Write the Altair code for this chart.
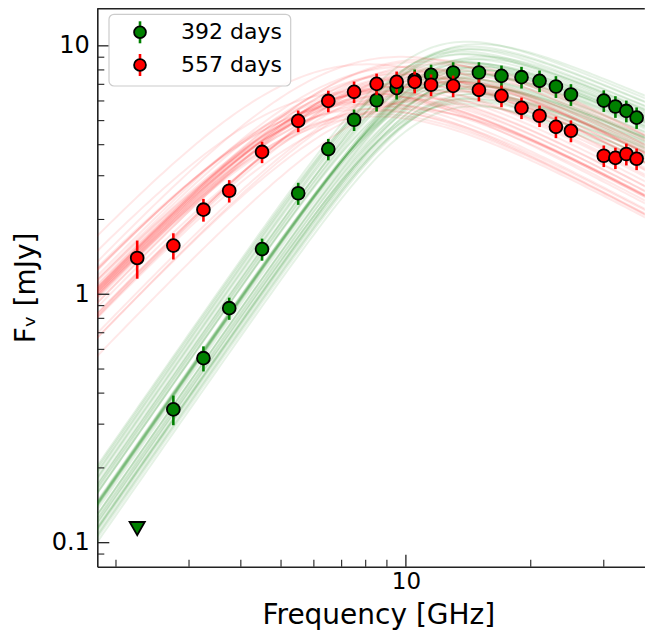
import numpy as np
import pandas as pd
import altair as alt

# ---------------- data ----------------
freq_392 = [2.75, 3.25, 3.75, 4.5, 5.5, 6.5, 7.5, 8.5, 9.5, 10.5, 11.5, 13, 15, 17, 19, 21, 23, 25, 30, 32, 34, 36]
flux_392 = [0.344, 0.553, 0.879, 1.52, 2.55, 3.84, 5.04, 6.04, 6.76, 7.30, 7.64, 7.81, 7.81, 7.57, 7.48, 7.23, 6.86,
            6.37, 6.02, 5.70, 5.47, 5.14]
err_392 = [0.047, 0.064, 0.09, 0.155, 0.26, 0.38, 0.50, 0.60, 0.68, 0.73, 0.76, 0.78, 0.78, 0.76, 0.75, 0.72, 0.69,
           0.64, 0.60, 0.57, 0.55, 0.51]
limit_freq_392 = [2.25]
limit_flux_392 = [0.114]

freq_557 = [2.25, 2.75, 3.25, 3.75, 4.5, 5.5, 6.5, 7.5, 8.5, 9.5, 10.5, 11.5, 13, 15, 17, 19, 21, 23, 25, 30, 32, 34, 36]
flux_557 = [1.40, 1.57, 2.19, 2.61, 3.74, 4.99, 6.00, 6.53, 7.03, 7.16, 7.16, 6.97, 6.90, 6.65, 6.29, 5.63, 5.23,
            4.72, 4.55, 3.61, 3.54, 3.67, 3.51]
err_557 = [0.245, 0.19, 0.23, 0.27, 0.37, 0.50, 0.60, 0.65, 0.70, 0.72, 0.72, 0.70, 0.69, 0.67, 0.63, 0.56, 0.52,
           0.47, 0.46, 0.36, 0.35, 0.37, 0.35]

# model-spectrum parameters (smoothed broken power law), one sample set per faint line
g_model = dict(Fb=11.0, nub=11.0, a1=2.4, a2=-0.70, s=1.5)
g_dF = [0.00, 0.05, -0.05, 0.10, -0.10, 0.03, -0.03, 0.08, -0.08, 0.12, -0.12, 0.01, -0.01, 0.06, -0.06,
        0.04, -0.04, 0.09, -0.09, 0.02, -0.02, 0.07, -0.07, 0.11, -0.13, 0.13, -0.11, 0.00, 0.05, -0.05,
        0.03, -0.03, 0.08, -0.08, 0.015, -0.015, 0.045, -0.045, 0.10, -0.10, 0.06, -0.06, 0.025, -0.025, 0.00]
g_dnu = [0.00, -0.02, 0.02, 0.01, -0.01, 0.03, -0.03, -0.01, 0.01, 0.02, -0.02, -0.03, 0.03, 0.00, 0.00,
         0.02, -0.02, -0.02, 0.02, 0.01, -0.01, 0.03, -0.03, 0.00, 0.01, -0.01, 0.00, 0.04, -0.04, 0.02,
         0.01, -0.01, -0.02, 0.02, 0.025, -0.025, 0.00, 0.00, -0.01, 0.01, 0.03, -0.03, -0.015, 0.015, 0.01]

r_model = dict(Fb=13.0, nub=7.6, a1=1.75, a2=-0.9, s=1.0)
r_dF = [0.00, 0.04, -0.04, 0.09, -0.09, 0.02, -0.02, 0.07, -0.07, 0.11, -0.11, 0.01, -0.01, 0.05, -0.05,
        0.03, -0.03, 0.08, -0.08, 0.06, -0.06, 0.10, -0.10, 0.02, -0.04, 0.04, 0.12, -0.12, 0.00, -0.02,
        0.03, -0.03, 0.07, -0.07, 0.015, -0.015, 0.05, -0.05, 0.09, -0.09, 0.00, 0.02, -0.02, 0.06, -0.06]
r_dnu = [0.00, 0.05, -0.05, 0.08, -0.08, 0.03, -0.03, 0.10, -0.10, 0.06, -0.06, 0.02, -0.02, 0.04, -0.04,
         0.07, -0.07, 0.01, -0.01, 0.09, -0.09, 0.05, -0.05, 0.12, -0.03, 0.03, 0.00, -0.06, 0.06, 0.14,
         0.02, -0.02, 0.04, -0.04, 0.06, -0.06, 0.00, 0.08, -0.08, 0.01, -0.01, 0.11, -0.11, 0.03, -0.03]

legend_labels = ["392 days", "557 days"]
GREEN = "#008000"
RED = "#ff0000"

# ---------------- tables ----------------
nu_grid = np.geomspace(1.78, 40.5, 140)


def model(nu, Fb, nub, a1, a2, s):
    x = nu / nub
    return Fb * x ** a1 * (1.0 + x ** (s * (a1 - a2))) ** (-1.0 / s)


def curves(par, dF, dnu):
    rows = []
    for i, (a, b) in enumerate(zip(dF, dnu)):
        f = model(nu_grid, par["Fb"] * 10 ** a, par["nub"] * 10 ** b, par["a1"], par["a2"], par["s"])
        for n, v in zip(nu_grid, f):
            rows.append({"curve": i, "nu": float(n), "f": float(v)})
    return pd.DataFrame(rows)


cg = curves(g_model, g_dF, g_dnu)
cr = curves(r_model, r_dF, r_dnu)

pg = pd.DataFrame({"nu": freq_392, "f": flux_392})
pg["lo"] = pg["f"] - np.array(err_392)
pg["hi"] = pg["f"] + np.array(err_392)
pr = pd.DataFrame({"nu": freq_557, "f": flux_557})
pr["lo"] = pr["f"] - np.array(err_557)
pr["hi"] = pr["f"] + np.array(err_557)
lim = pd.DataFrame({"nu": limit_freq_392, "f": limit_flux_392})

W, H = 547.5, 558.7
xs = alt.Scale(type="log", domain=[1.803, 37.67], nice=False)
ys = alt.Scale(type="log", domain=[0.08005, 14.2], nice=False)

FONT = "DejaVu Sans"
xaxis = alt.Axis(values=[10], format="~g", ticks=False, grid=False, domainColor="#222", domainWidth=1.6,
                 labelFont=FONT, labelFontSize=23, labelColor="black", labelPadding=4,
                 title="Frequency [GHz]", titleFont=FONT, titleFontSize=28, titleFontWeight="normal",
                 titleColor="black", titlePadding=8, titleX=281)
yaxis = alt.Axis(values=[0.1, 1, 10], format="~g", ticks=False, grid=False, domainColor="#222", domainWidth=1.6,
                 labelFont=FONT, labelFontSize=24, labelColor="black", labelPadding=8,
                 title="F\u1d65 [mJy]", titleFont=FONT, titleFontSize=28, titleFontWeight="normal",
                 titleColor="black", titlePadding=11)

X = alt.X("nu:Q", scale=xs, axis=xaxis)
Y = alt.Y("f:Q", scale=ys, axis=yaxis)
Ylo = alt.Y("lo:Q", scale=ys, axis=yaxis)

green_lines = alt.Chart(cg).mark_line(color=GREEN, strokeWidth=2.0, strokeOpacity=0.10, clip=True).encode(
    x=X, y=Y, detail="curve:N")
red_lines = alt.Chart(cr).mark_line(color=RED, strokeWidth=2.0, strokeOpacity=0.09, clip=True).encode(
    x=X, y=Y, detail="curve:N")

g_err = alt.Chart(pg).mark_rule(color=GREEN, strokeWidth=2.6).encode(x=X, y=Ylo, y2="hi:Q")
g_pts = alt.Chart(pg).mark_point(shape="circle", fill=GREEN, stroke="black", strokeWidth=1.8, size=165, opacity=1,
                                 fillOpacity=1).encode(x=X, y=Y)
g_lim = alt.Chart(lim).mark_point(shape="triangle-down", fill=GREEN, stroke="black", strokeWidth=1.8, size=230,
                                  opacity=1, fillOpacity=1).encode(x=X, y=Y)
r_err = alt.Chart(pr).mark_rule(color=RED, strokeWidth=2.6).encode(x=X, y=Ylo, y2="hi:Q")
r_pts = alt.Chart(pr).mark_point(shape="circle", fill=RED, stroke="black", strokeWidth=1.8, size=165, opacity=1,
                                 fillOpacity=1).encode(x=X, y=Y)

# inward ticks
x_major = pd.DataFrame({"nu": [10]})
x_minor = pd.DataFrame({"nu": [2, 3, 4, 5, 6, 7, 8, 9, 20, 30]})
y_major = pd.DataFrame({"f": [0.1, 1, 10]})
y_minor = pd.DataFrame({"f": [0.09, 0.2, 0.3, 0.4, 0.5, 0.6, 0.7, 0.8, 0.9, 2, 3, 4, 5, 6, 7, 8, 9]})
TC = "#222"
xt1 = alt.Chart(x_major).mark_rule(color=TC, strokeWidth=1.3).encode(x=X, y=alt.value(H), y2=alt.value(H - 12))
xt2 = alt.Chart(x_minor).mark_rule(color=TC, strokeWidth=1.1).encode(x=X, y=alt.value(H), y2=alt.value(H - 7))
yt1 = alt.Chart(y_major).mark_rule(color=TC, strokeWidth=1.3).encode(y=Y, x=alt.value(0), x2=alt.value(12))
yt2 = alt.Chart(y_minor).mark_rule(color=TC, strokeWidth=1.1).encode(y=Y, x=alt.value(0), x2=alt.value(7))
one = pd.DataFrame({"a": [0]})
top_line = alt.Chart(one).mark_rule(color=TC, strokeWidth=1.6).encode(x=alt.value(0), x2=alt.value(W),
                                                                      y=alt.value(0.8))

# legend
leg = pd.DataFrame({"label": legend_labels, "color": [GREEN, RED], "py": [24.3, 57.0]})
leg_box = alt.Chart(one).mark_rect(fill="white", fillOpacity=0.8, stroke="#cccccc", strokeWidth=1.2,
                                   cornerRadius=5).encode(x=alt.value(11.7), x2=alt.value(193.4),
                                                          y=alt.value(6.3), y2=alt.value(78.0))
cscale = alt.Scale(domain=legend_labels, range=[GREEN, RED])
leg_bar = alt.Chart(leg).mark_rule(strokeWidth=2.6).encode(
    x=alt.value(42.7), y=alt.Y("y1:Q", scale=None), y2="y2:Q",
    color=alt.Color("label:N", scale=cscale, legend=None)).transform_calculate(
    y1="datum.py - 11", y2="datum.py + 11")
leg_sym = alt.Chart(leg).mark_point(shape="circle", stroke="black", strokeWidth=1.8, size=140, opacity=1,
                                    filled=True, fillOpacity=1).encode(
    x=alt.value(42.7), y=alt.Y("py:Q", scale=None),
    fill=alt.Fill("label:N", scale=cscale, legend=None))
leg_txt = alt.Chart(leg).mark_text(align="left", baseline="middle", font=FONT, fontSize=22, color="black").encode(
    x=alt.value(83.7), y=alt.Y("py:Q", scale=None), text="label:N")

chart = alt.layer(
    green_lines, red_lines, xt1, xt2, yt1, yt2, top_line,
    g_err, g_pts, g_lim, r_err, r_pts,
    leg_box, leg_bar, leg_sym, leg_txt
).properties(
    width=W, height=H, autosize=alt.AutoSizeParams(type="none"),
    padding={"left": 89.3, "top": 0, "right": 0, "bottom": 64}
).configure_view(stroke=None).resolve_scale(color="independent", fill="independent")

chart.save("out.html", embed_options={"renderer": "svg", "actions": False})
